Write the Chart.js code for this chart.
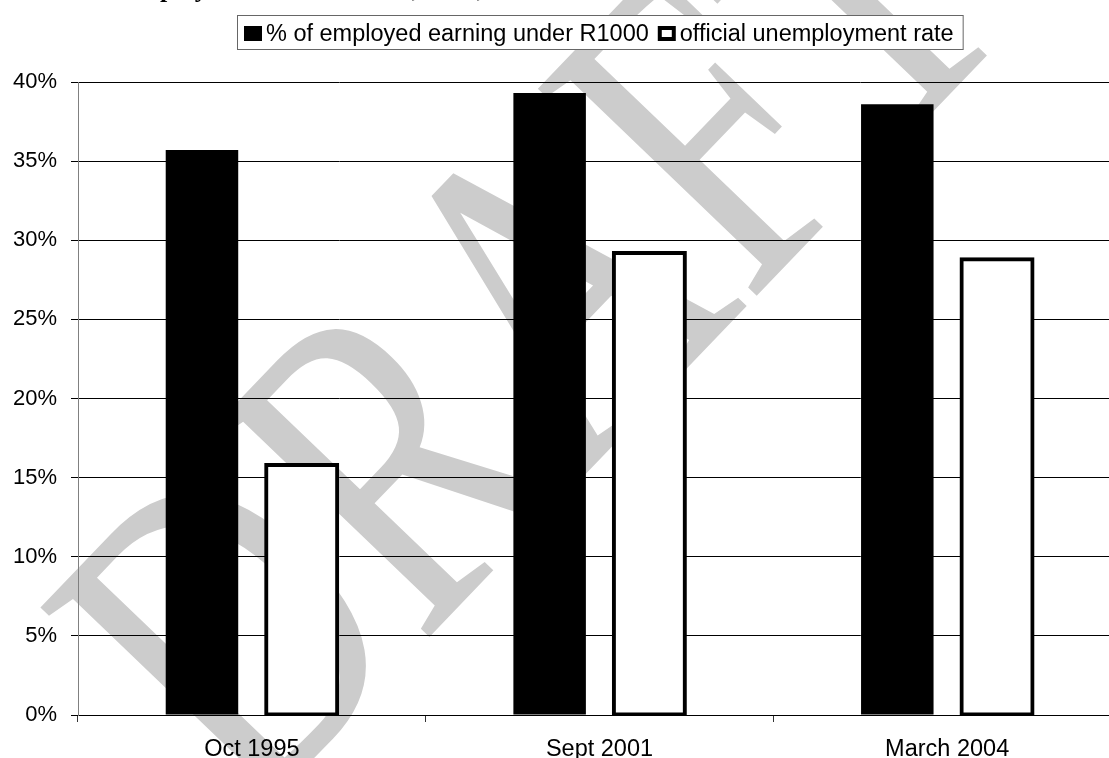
<!DOCTYPE html>
<html><head><meta charset="utf-8">
<script src="https://cdn.jsdelivr.net/npm/chart.js@4.4.0/dist/chart.umd.min.js"></script>
<style>
html,body{margin:0;padding:0;overflow:hidden;background:#fff;width:1109px;height:758px}
#wrap{width:1121px;height:758px;position:relative}
canvas{display:block}
</style></head><body><div id="wrap"><canvas id="c" width="1121" height="758"></canvas></div>
<script>
const categories = ['Oct 1995', 'Sept 2001', 'March 2004'];
const seriesNames = ['% of employed earning under R1000', 'official unemployment rate'];
const earningUnderR1000 = [35.7, 39.3, 38.6];
const unemploymentRate = [15.8, 29.2, 28.8];
const yTickStep = 5;
const yMin = 0, yMax = 40;
const titleText = 'Employment rates in 1995, 2001, 2004';
const watermarkText = 'DRAFT';

const FONT = '"Liberation Sans", Arial, sans-serif';

const watermarkPlugin = {
  id: 'watermark',
  beforeDraw(chart) {
    const ctx = chart.ctx;
    ctx.save();
    ctx.fillStyle = '#cccccc';
    ctx.font = '460px "Liberation Serif", "Times New Roman", serif';
    ctx.textBaseline = 'alphabetic';
    ctx.translate(251, 823);
    ctx.rotate(-46.2 * Math.PI / 180);
    ctx.scale(0.74, 1);
    ctx.fillText(watermarkText, 0, 0);
    ctx.restore();
  }
};

const legendTitlePlugin = {
  id: 'legendTitle',
  afterDraw(chart) {
    const ctx = chart.ctx;
    ctx.save();
    // title, cut off by the top edge of the picture
    ctx.font = 'bold 26px "Liberation Serif", "Times New Roman", serif';
    ctx.fillStyle = '#000';
    ctx.textBaseline = 'alphabetic';
    ctx.fillText(titleText, 121, -3);

    // boxed legend
    ctx.font = '23.5px ' + FONT;
    const ds = chart.data.datasets;
    const w1 = ctx.measureText(ds[0].label).width;
    const w2 = ctx.measureText(ds[1].label).width;
    const mW = 18, mH = 15, gapMT = 4, gapItems = 9, padL = 7, padR = 9;
    const total = padL + mW + gapMT + w1 + gapItems + mW + gapMT + w2 + padR;
    const boxL = Math.round(600 - total / 2), boxT = 15, boxH = 34;
    ctx.fillStyle = '#fff';
    ctx.fillRect(boxL, boxT, total, boxH);
    ctx.strokeStyle = '#666';
    ctx.lineWidth = 1;
    ctx.strokeRect(boxL + 0.5, boxT + 0.5, total, boxH);
    let x = boxL + padL;
    const my = 26;
    ctx.fillStyle = ds[0].backgroundColor;
    ctx.fillRect(x, my, mW, mH);
    x += mW + gapMT;
    ctx.fillStyle = '#000';
    ctx.fillText(ds[0].label, x, 41);
    x += w1 + gapItems;
    ctx.fillStyle = ds[1].borderColor;
    ctx.fillRect(x, my, mW, mH);
    ctx.fillStyle = ds[1].backgroundColor;
    ctx.fillRect(x + 4, my + 4, mW - 8, mH - 8);
    x += mW + gapMT;
    ctx.fillStyle = '#000';
    ctx.fillText(ds[1].label, x, 41);
    ctx.restore();
  }
};

new Chart(document.getElementById('c'), {
  type: 'bar',
  data: {
    labels: categories,
    datasets: [
      {
        label: seriesNames[0],
        data: earningUnderR1000,
        backgroundColor: '#000000',
        borderWidth: 0,
        barPercentage: 0.727,
        categoryPercentage: 0.5737
      },
      {
        label: seriesNames[1],
        data: unemploymentRate,
        backgroundColor: '#ffffff',
        borderColor: '#000000',
        borderWidth: 4,
        borderSkipped: false,
        inflateAmount: 2,
        barPercentage: 0.712,
        categoryPercentage: 0.5737
      }
    ]
  },
  options: {
    responsive: false,
    animation: false,
    devicePixelRatio: 1,
    layout: { padding: { top: 82, left: 0, right: 0, bottom: 0 } },
    plugins: {
      legend: { display: false },
      title: { display: false },
      tooltip: { enabled: false }
    },
    scales: {
      x: {
        offset: true,
        grid: { offset: true, drawOnChartArea: false, drawTicks: true, tickLength: 7, color: '#333', lineWidth: 1 },
        border: { display: true, color: '#000', width: 1 },
        ticks: { color: '#000', font: { family: FONT, size: 23.5 }, padding: 13, maxRotation: 0, autoSkip: false },
        afterFit(s) { s.height = 43; }
      },
      y: {
        min: yMin,
        max: yMax,
        ticks: {
          stepSize: yTickStep,
          color: '#000',
          font: { family: FONT, size: 22 },
          padding: 14,
          callback: v => v + '%'
        },
        grid: { color: '#000', lineWidth: 1, tickLength: 7, drawTicks: true },
        border: { display: true, color: '#808080', width: 1 },
        afterFit(s) { s.width = 78; }
      }
    }
  },
  plugins: [watermarkPlugin, legendTitlePlugin]
});
</script>
</body></html>
